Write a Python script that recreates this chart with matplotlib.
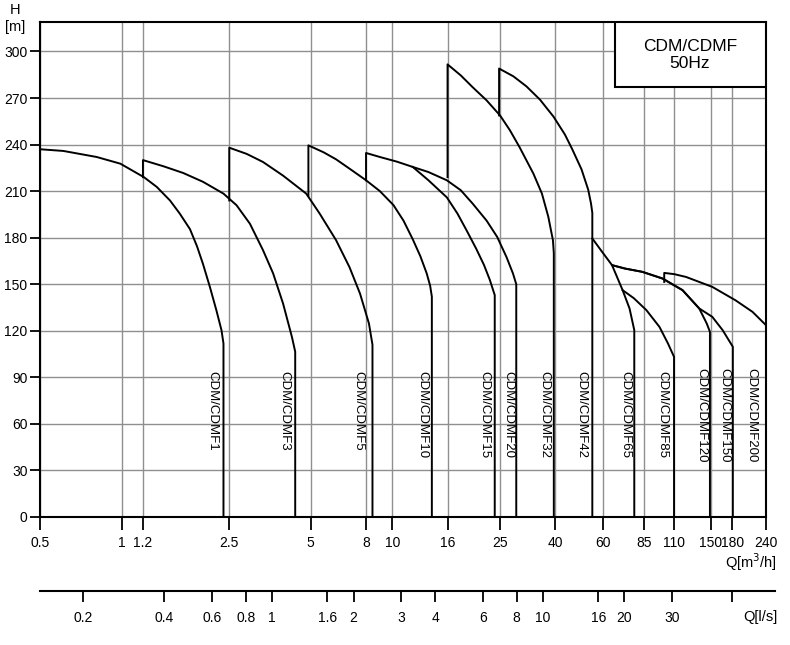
import matplotlib
matplotlib.use('Agg')
import matplotlib.pyplot as plt
import matplotlib.patches as patches

plt.rcParams['font.family'] = 'Liberation Sans'
plt.rcParams['font.size'] = 10

# pump curves, Q in m3/h, H in m (first/last points are the vertical edges)
q1 = [0.5, 0.61, 0.81, 0.99, 1.21, 1.35, 1.51, 1.64, 1.79, 1.9, 2.0, 2.12, 2.24, 2.34, 2.38, 2.38]
h1 = [237, 235.9, 232, 227.7, 219, 212.7, 204, 195.6, 185.5, 174.5, 163, 148.3, 133.3, 120.4, 111.8, 0]
q3 = [1.2, 1.2, 1.43, 1.69, 2.0, 2.38, 2.66, 2.98, 3.33, 3.63, 3.95, 4.26, 4.38, 4.38]
h3 = [219, 230, 226, 221.7, 216, 208.4, 200.9, 189, 172, 157, 137.6, 116, 106.5, 0]
q5 = [2.5, 2.5, 2.9, 3.33, 3.95, 4.81, 5.39, 6.2, 6.95, 7.6, 8.2, 8.45, 8.45]
h5 = [204, 238, 234, 228.8, 220, 208.4, 195.6, 178.4, 161, 144, 124.7, 111, 0]
q10 = [4.9, 4.9, 5.58, 6.2, 6.95, 8.0, 9.0, 10.1, 11.0, 11.9, 12.7, 13.4, 13.8, 14.0, 14.0]
h10 = [207, 239.5, 235, 230.5, 224.5, 217, 210, 201, 191, 179, 168, 157, 149, 142, 0]
q15 = [8.0, 8.0, 9.0, 10.4, 11.9, 13.6, 15.9, 17.4, 18.8, 20.4, 21.8, 22.9, 23.9, 23.9]
h15 = [217, 234.6, 232, 229, 225.6, 217, 206, 195.6, 184.8, 173, 162.5, 153, 143, 0]
q20 = [11.9, 13.6, 15.9, 17.9, 19.8, 22.3, 24.4, 26.4, 27.9, 28.7, 28.7]
h20 = [225.6, 222.3, 217, 210.6, 202, 191, 180.5, 167.6, 157, 150, 0]
q32 = [16, 16, 17.9, 19.8, 22.3, 25, 27.2, 29.5, 33.2, 35.7, 37.7, 39.2, 39.5, 39.5]
h32 = [219, 291.7, 284.6, 277, 268.5, 258.8, 249.2, 238.4, 221.3, 208.4, 193.4, 178.4, 170, 0]
q42 = [24.8, 24.8, 28, 31.3, 35.1, 39.4, 43.4, 46.2, 50, 52.9, 54.2, 54.8, 54.8]
h42 = [258.8, 289, 284, 277.5, 269, 258, 246.5, 237, 224, 211, 202, 196, 0]
q65 = [54.8, 59.6, 64.8, 70.9, 75.2, 78.3, 78.3]
h65 = [179.5, 170.8, 162.3, 146.2, 134.4, 120.4, 0]
q85 = [70.9, 78, 86.8, 97, 104.3, 109.8, 109.8]
h85 = [146.2, 141, 133.3, 122.5, 111.8, 103.2, 0]
q120 = [64.8, 72.4, 83.8, 99.5, 118, 136, 145, 149, 149]
h120 = [162.3, 160.1, 158, 153.7, 146.2, 134.4, 124.7, 119.3, 0]
q150 = [64.8, 72.4, 83.8, 99.5, 118, 136, 152, 166, 181, 181]
h150 = [162.3, 160.1, 158, 153.7, 146.2, 134.4, 129, 120.4, 109.7, 0]
q200 = [101, 101, 110, 121.6, 152, 185, 214, 240]
h200 = [151.5, 157.3, 156.5, 154.7, 148.3, 139.7, 132.2, 123.6]

curves = [(q1, h1), (q3, h3), (q5, h5), (q10, h10), (q15, h15), (q20, h20),
          (q32, h32), (q42, h42), (q65, h65), (q85, h85), (q120, h120),
          (q150, h150), (q200, h200)]

labels = ['CDM/CDMF1', 'CDM/CDMF3', 'CDM/CDMF5', 'CDM/CDMF10', 'CDM/CDMF15',
          'CDM/CDMF20', 'CDM/CDMF32', 'CDM/CDMF42', 'CDM/CDMF65', 'CDM/CDMF85',
          'CDM/CDMF120', 'CDM/CDMF150', 'CDM/CDMF200']
label_q = [2.17, 3.98, 7.47, 12.96, 21.8, 26.8, 36.5, 50.1, 72.6, 99.7, 139, 168.6, 212.6]
label_top = [94, 94, 94, 94, 94, 94, 94, 94, 94, 94, 96, 96, 96]

q_ticks = [0.5, 1, 1.2, 2.5, 5, 8, 10, 16, 25, 40, 60, 85, 110, 150, 180, 240]
q_ticklabels = ['0.5', '1', '1.2', '2.5', '5', '8', '10', '16', '25', '40', '60',
                '85', '110', '150', '180', '240']
h_ticks = [0, 30, 60, 90, 120, 150, 180, 210, 240, 270, 300]
ls_ticks = [0.2, 0.4, 0.6, 0.8, 1, 1.6, 2, 3, 4, 6, 8, 10, 16, 20, 30, 50]
ls_ticklabels = ['0.2', '0.4', '0.6', '0.8', '1', '1.6', '2', '3', '4', '6', '8',
                 '10', '16', '20', '30', '']

fig = plt.figure(figsize=(7.9, 6.45), dpi=100)
ax = fig.add_axes([40/790, 128/645, 726/790, 495/645])

for q, h in curves:
    ax.plot(q, h, color='black', lw=1.4, zorder=4)

for lab, xq, yt in zip(labels, label_q, label_top):
    ax.text(xq, yt, lab, rotation=270, ha='center', va='top', fontsize=9.5, zorder=5)

ax.set_xscale('log')
ax.set_xlim(0.5, 240)
ax.set_ylim(0, 319)
ax.set_xticks(q_ticks)
ax.set_xticklabels(q_ticklabels)
ax.set_xticks([], minor=True)
ax.set_yticks(h_ticks)
ax.grid(True, color='#8f8f8f', lw=1.0)
ax.set_axisbelow(True)
ax.tick_params(axis='x', length=9, width=1.3, pad=5, labelsize=10)
ax.tick_params(axis='y', length=7, width=1.3, pad=2, labelsize=10)
for s in ax.spines.values():
    s.set_linewidth(1.5)

# title box in the top right corner
box = patches.Rectangle((0.792, 0.8687), 0.208, 0.1313, transform=ax.transAxes,
                        facecolor='white', edgecolor='black', lw=1.5, zorder=6)
ax.add_patch(box)
ax.text(0.895, 0.933, 'CDM/CDMF\n50Hz', transform=ax.transAxes, ha='center',
        va='center', fontsize=12.5, linespacing=1.15, zorder=7)

fig.text(15/790, 1 - 10/645, 'H', ha='center', va='center', fontsize=10.5)
fig.text(15/790, 1 - 27/645, '[m]', ha='center', va='center', fontsize=10.5)
fig.text(777/790, 1 - 562/645, 'Q[m$^3$/h]', ha='right', va='center', fontsize=10.5)

# second axis in l/s
ax2 = fig.add_axes([40/790, 54.5/645, 735/790, 0.0005])
ax2.set_xscale('log')
ax2.set_xlim(0.5/3.6, 258.9/3.6)
ax2.set_xticks(ls_ticks)
ax2.set_xticklabels(ls_ticklabels)
ax2.set_xticks([], minor=True)
ax2.set_yticks([])
for side in ['top', 'left', 'right']:
    ax2.spines[side].set_visible(False)
ax2.spines['bottom'].set_linewidth(1.5)
ax2.patch.set_visible(False)
ax2.tick_params(axis='x', length=8, width=1.3, pad=7, labelsize=10)
fig.text(777/790, 1 - 617/645, 'Q[l/s]', ha='right', va='center', fontsize=10.5)

plt.savefig('out.png', dpi=100)
